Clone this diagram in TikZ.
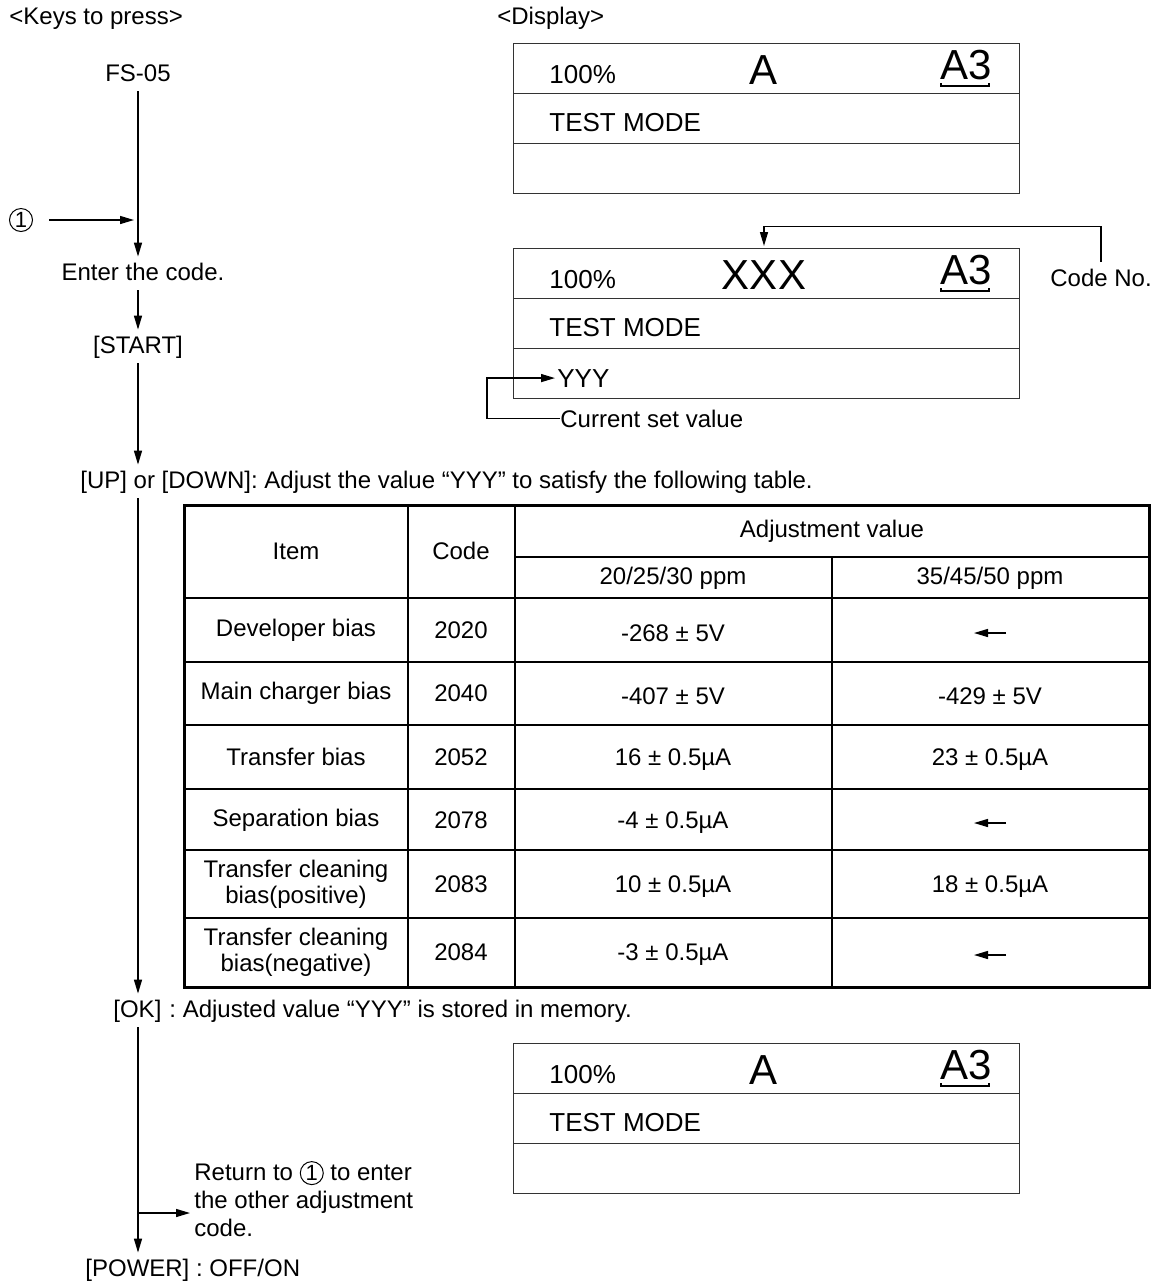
\documentclass[tikz,border=0pt]{standalone}
\usepackage{fontspec}
\setmainfont{Liberation Sans}
\usepackage{tikz}
\usetikzlibrary{arrows.meta,positioning,calc}
\tikzset{
  txt/.style    ={inner sep=0pt, anchor=base west, font=\fontsize{12}{14}\selectfont},
  lcdtxt/.style ={txt, font=\fontsize{13}{15}\selectfont},
  key/.style    ={inner sep=2.5pt, text height=9pt, text depth=2.5pt,
                  font=\fontsize{12}{14}\selectfont},
  big/.style    ={inner sep=0pt, anchor=base, font=\fontsize{21}{25}\selectfont},
  cell/.style   ={align=center, inner sep=0pt, font=\fontsize{12}{13}\selectfont},
  numc/.style   ={circle, draw, line width=0.5pt, inner sep=0.6pt, minimum size=11.5pt,
                  font=\fontsize{11}{12}\selectfont},
  lcdbox/.style ={draw=black!80, line width=0.6pt, minimum width=253pt,
                  minimum height=75pt, inner sep=0pt},
  lcd/.style    ={draw=black!80, line width=0.6pt},
  flow/.style   ={-{Triangle[length=7pt,width=4pt]}, line width=0.7pt},
  wire/.style   ={line width=0.6pt},
  frame/.style  ={line width=1.5pt},
  grid/.style   ={line width=0.6pt},
}
\newcommand{\onecirc}{\tikz[baseline=(oc.base)]\node[numc] (oc) {1};}

\begin{document}
\begin{tikzpicture}[x=0.5pt, y=-0.5pt]
  \useasboundingbox (0,0) rectangle (1153,1282);

  % keys column
  \node[txt] (keys) at (9,24) {<Keys to press>};
  \node[txt] (disp) at (497,24) {<Display>};

  \node[key, anchor=base] (fs) at (138,81) {FS-05};
  \node[key, anchor=base] (enter) at (143,280) {Enter the code.};
  \node[key, anchor=base] (start) at (138,353) {[START]};
  \node[key, anchor=base west] (updown) at (75,488)
      {[UP] or [DOWN]: Adjust the value “YYY” to satisfy the following table.};
  \node[key, anchor=base west] (ok) at (108,1017)
      {[OK]\hspace{4pt}: Adjusted value “YYY” is stored in memory.};
  \node[key, anchor=base west] (power) at (80,1276) {[POWER] : OFF/ON};
  \node[numc] (one) at (21,220) {1};
  \node[align=left, anchor=west, inner sep=2pt, font=\fontsize{12}{14}\selectfont]
      (ret) at (190,1199) {Return to \onecirc{} to enter\\the other adjustment\\code.};

  \draw[flow] (fs) -- (enter.north -| fs);
  \draw[flow] (enter.south -| fs) -- (start);
  \draw[flow] (start) -- (updown.north -| fs);
  \draw[flow] (updown.south -| fs) -- (ok.north -| fs);
  \draw[flow] (ok.south -| fs) -- (power.north -| fs);
  \draw[flow, shorten <=8pt, shorten >=2pt] (one) -- (one -| fs);
  \coordinate (br) at (138,1213);
  \draw[flow] (br) -- (ret.west |- br);

  % display panels
  \foreach \y/\mtxt/\bx in {0/A/a, 205/XXX/b, 1000/A/c} {
    \node[lcdbox, anchor=north west] (box\bx) at (513,43+\y) {};
    \draw[lcd] ($(box\bx.north west)!1/3!(box\bx.south west)$)
            -- ($(box\bx.north east)!1/3!(box\bx.south east)$);
    \draw[lcd] ($(box\bx.north west)!2/3!(box\bx.south west)$)
            -- ($(box\bx.north east)!2/3!(box\bx.south east)$);
    \node[lcdtxt] (pct\bx) at (549,83+\y) {100\%};
    \node[big] (mid\bx) at (764,84+\y) {\mtxt};
    \node[big] (sz\bx) at (966,79+\y) {A3};
    \draw[wire] ($(sz\bx.base west)+(1,4)$) -- ++(0,3)
             -- ($(sz\bx.base east)+(-3,7)$) -- ++(0,-3);
    \node[lcdtxt] (mode\bx) at (549,131+\y) {TEST MODE};
  }
  \node[lcdtxt] (yyy) at (557,387) {YYY};
  \node[txt] (cur) at (560,427) {Current set value};
  \node[txt] (codeno) at (1050,286) {Code No.};
  \draw[flow, shorten >=1pt] (cur.west) -- ++(-73,0) |- (yyy.west);
  \draw[flow, shorten <=3pt, shorten >=1pt] (codeno.north) -- ++(0,-42) -| (midb |- boxb.north);

  % adjustment table
  \draw[frame] (184,505) rectangle (1149,987);
  \foreach \y in {598,662,725,789,850,918}
    \draw[grid] (184,\y) -- (1149,\y);
  \draw[grid] (515,557) -- (1149,557);
  \foreach \x in {408,515}
    \draw[grid] (\x,505) -- (\x,987);
  \draw[grid] (832,557) -- (832,987);

  \node[cell] (hitem) at (296,551) {Item};
  \node[cell] (hcode) at (461,551) {Code};
  \node[cell] (hadj) at (832,531) {Adjustment value};
  \node[cell] (hlow) at (673,578) {20/25/30 ppm};
  \node[cell] (hhigh) at (990,578) {35/45/50 ppm};

  \foreach \yc/\item/\code/\lo/\hi [count=\r] in {
      630/Developer bias/2020/{-268 ± 5V}/{},
      693/Main charger bias/2040/{-407 ± 5V}/{-429 ± 5V},
      757/Transfer bias/2052/{16 ± 0.5µA}/{23 ± 0.5µA},
      820/Separation bias/2078/{-4 ± 0.5µA}/{},
      884/{Transfer cleaning\\bias(positive)}/2083/{10 ± 0.5µA}/{18 ± 0.5µA},
      952/{Transfer cleaning\\bias(negative)}/2084/{-3 ± 0.5µA}/{}} {
    \node[cell] (item\r) at (296,\yc) {\item};
    \node[cell] (code\r) at (461,\yc) {\code};
    \node[cell] (lo\r) at (673,\yc+3) {\lo};
    \node[cell] (hi\r) at (990,\yc+3) {\hi};
  }
  \foreach \r in {1,4,6}
    \draw[flow] ([xshift=8pt]hi\r.center) -- ([xshift=-8pt]hi\r.center);
\end{tikzpicture}
\end{document}
